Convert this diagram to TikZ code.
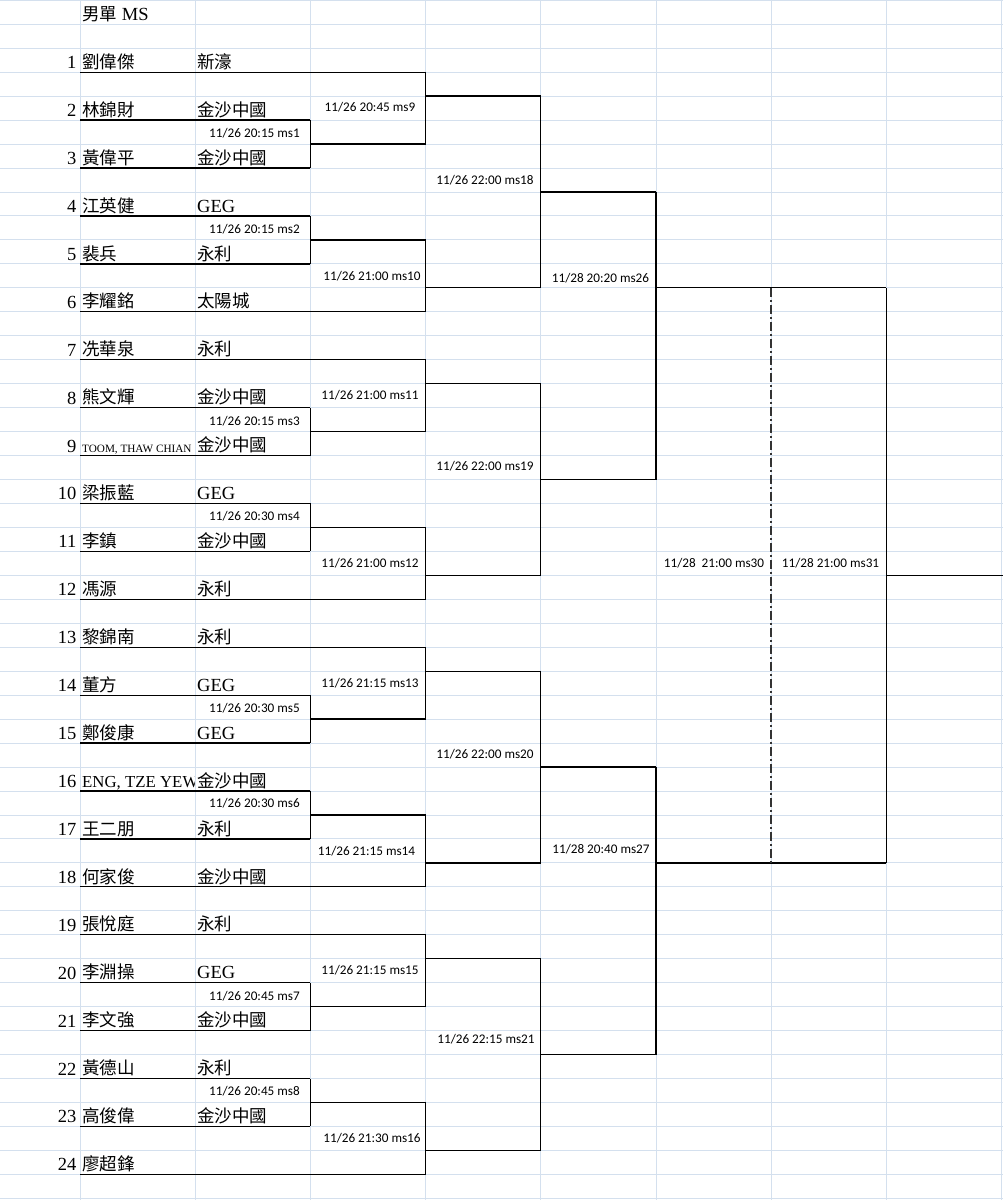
\documentclass[tikz,border=0pt]{standalone}
\usepackage{fontspec}
\usetikzlibrary{calc}
\setmainfont{Liberation Serif}
\newfontfamily\cjk{Noto Sans CJK TC}
\newfontfamily\lblf{Carlito}
\definecolor{gridc}{RGB}{212,224,238}
\newcommand\geg{{\rmfamily\fontsize{18.5}{20}\selectfont GEG}}
\begin{document}
\begin{tikzpicture}[x=1pt,y=-23.96pt,
  gridln/.style={gridc,line width=0.9pt},
  br/.style={black,line width=1.3pt},
  dd/.style={black!80,line width=1.7pt,dash pattern=on 9pt off 3pt on 2pt off 3pt},
  num/.style={inner sep=0pt,anchor=base east,yshift=3.5pt,font=\fontsize{18.5}{20}\selectfont},
  nm/.style={inner sep=0pt,anchor=base west,yshift=3.8pt,font=\cjk\fontsize{17.5}{20}\selectfont},
  lt/.style={inner sep=0pt,anchor=base west,yshift=3.5pt,font=\fontsize{18.5}{20}\selectfont},
  lbl/.style={inner sep=0pt,anchor=base,yshift=-4.2pt,font=\lblf\fontsize{13.2}{15}\selectfont}]
\useasboundingbox (0pt,0pt) rectangle (1003pt,-1200pt);
\begin{scope}[yshift=-0.3pt]
% spreadsheet grid
\foreach \r in {0,...,50} \draw[gridln] (0,\r) -- (1003,\r);
\foreach \k in {0,...,8} \draw[gridln] ({80+115.2*\k},-0.1) -- ({80+115.2*\k},50.2);

% title
\node[nm] (title) at (82,1) {男單\rmfamily\fontsize{18.5}{20}\selectfont\ MS};

% seed numbers
\foreach \i in {1,...,24} \node[num] (no\i) at (76.5,{2*\i+1}) {\i};

% player names and clubs
\foreach \i/\pn/\pc in {1/劉偉傑/新濠, 2/林錦財/金沙中國, 3/黃偉平/金沙中國, 4/江英健/\geg,
  5/裴兵/永利, 6/李耀銘/太陽城, 7/冼華泉/永利, 8/熊文輝/金沙中國, 10/梁振藍/\geg,
  11/李鎮/金沙中國, 12/馮源/永利, 13/黎錦南/永利, 14/董方/\geg, 15/鄭俊康/\geg,
  17/王二朋/永利, 18/何家俊/金沙中國, 19/張悅庭/永利, 20/李淵操/\geg,
  21/李文強/金沙中國, 22/黃德山/永利, 23/高俊偉/金沙中國}
{
  \node[nm] (nm\i) at (81.8,{2*\i+1}) {\pn};
  \node[nm] (cl\i) at (197,{2*\i+1}) {\pc};
}
\node[nm] (nm24) at (81.8,49) {廖超鋒};
\node[lt,font=\fontsize{11.2}{13}\selectfont] (nm9) at (82,19) {TOOM, THAW CHIAN};
\node[nm] (cl9) at (197,19) {金沙中國};
\begin{scope}
  \clip (80,32) rectangle (194.6,33.2);
  \node[lt,font=\fontsize{16.8}{19}\selectfont] (nm16) at (82,33) {ENG, TZE YEW};
\end{scope}
\node[nm] (cl16) at (197,33) {金沙中國};

% player lines
\foreach \i in {1,...,24} \coordinate (s\i) at (80,{2*\i+1});
\foreach \i in {2,3,4,5,8,9,10,11,14,15,16,17,20,21,22,23} \coordinate (u\i) at (310.4,{2*\i+1});
\foreach \i in {1,6,7,12,13,18,19,24} \coordinate (u\i) at (425.6,{2*\i+1});
\foreach \i in {1,...,24} \draw[br] (s\i) -- (u\i);

% round 1
\foreach \m/\a/\b/\l in {1/2/3/6, 2/4/5/10, 3/8/9/18, 4/10/11/22, 5/14/15/30, 6/16/17/34, 7/20/21/42, 8/22/23/46}
{
  \coordinate (j\m) at (310.4,\l);
  \coordinate (o\m) at (425.6,\l);
  \draw[br] (u\a) -- (u\b);
  \draw[br] (j\m) -- (o\m);
}
% round 2
\foreach \m/\a/\b/\l in {9/u1/o1/4, 10/o2/u6/12, 11/u7/o3/16, 12/o4/u12/24, 13/u13/o5/28, 14/o6/u18/36, 15/u19/o7/40, 16/o8/u24/48}
{
  \coordinate (j\m) at (425.6,\l);
  \coordinate (o\m) at (540.8,\l);
  \draw[br] (\a) -- (\b);
  \draw[br] (j\m) -- (o\m);
}
% round 3
\foreach \m/\a/\b/\l in {18/o9/o10/8, 19/o11/o12/20, 20/o13/o14/32, 21/o15/o16/44}
{
  \coordinate (j\m) at (540.8,\l);
  \coordinate (o\m) at (656,\l);
  \draw[br] (\a) -- (\b);
  \draw[br] (j\m) -- (o\m);
}
% round 4
\foreach \m/\a/\b/\l in {26/o18/o19/12, 27/o20/o21/36}
{
  \coordinate (j\m) at (656,\l);
  \coordinate (o\m) at (886.4,\l);
  \draw[br] (\a) -- (\b);
  \draw[br] (j\m) -- (o\m);
}
% final
\coordinate (j31) at (886.4,24);
\coordinate (fin) at (1003,24);
\draw[br] (o26) -- (o27);
\draw[br] (j31) -- (fin);
\coordinate (d1) at (771.2,12);
\coordinate (d2) at (771.2,36);
\draw[dd] (d1) -- (d2);

% match labels
\foreach \k/\mx/\mr/\md/\mt in {1/254.5/5.55/26/20:15, 2/254.5/9.55/26/20:15, 3/254.5/17.55/26/20:15,
  4/254.5/21.55/26/20:30, 5/254.5/29.55/26/20:30, 6/254.5/33.5/26/20:30, 7/254.5/41.55/26/20:45,
  8/254.5/45.55/26/20:45,
  9/370/4.45/26/20:45, 10/372/11.5/26/21:00, 11/370/16.5/26/21:00, 12/370/23.5/26/21:00,
  13/370/28.5/26/21:15, 14/366.5/35.5/26/21:15, 15/370/40.5/26/21:15, 16/372/47.5/26/21:30,
  18/485/7.5/26/22:00, 19/485/19.45/26/22:00, 20/485/31.45/26/22:00, 21/486/43.35/26/22:15,
  26/600.5/11.6/28/20:20, 27/601/35.45/28/20:40}
  \node[lbl] (l\k) at (\mx,\mr) {11/\md\ \mt\ ms\k};
\node[lbl] (l30) at (714,23.5) {11/28\ \ 21:00 ms30};
\node[lbl] (l31) at (830.5,23.5) {11/28 21:00 ms31};
\end{scope}
\end{tikzpicture}
\end{document}
